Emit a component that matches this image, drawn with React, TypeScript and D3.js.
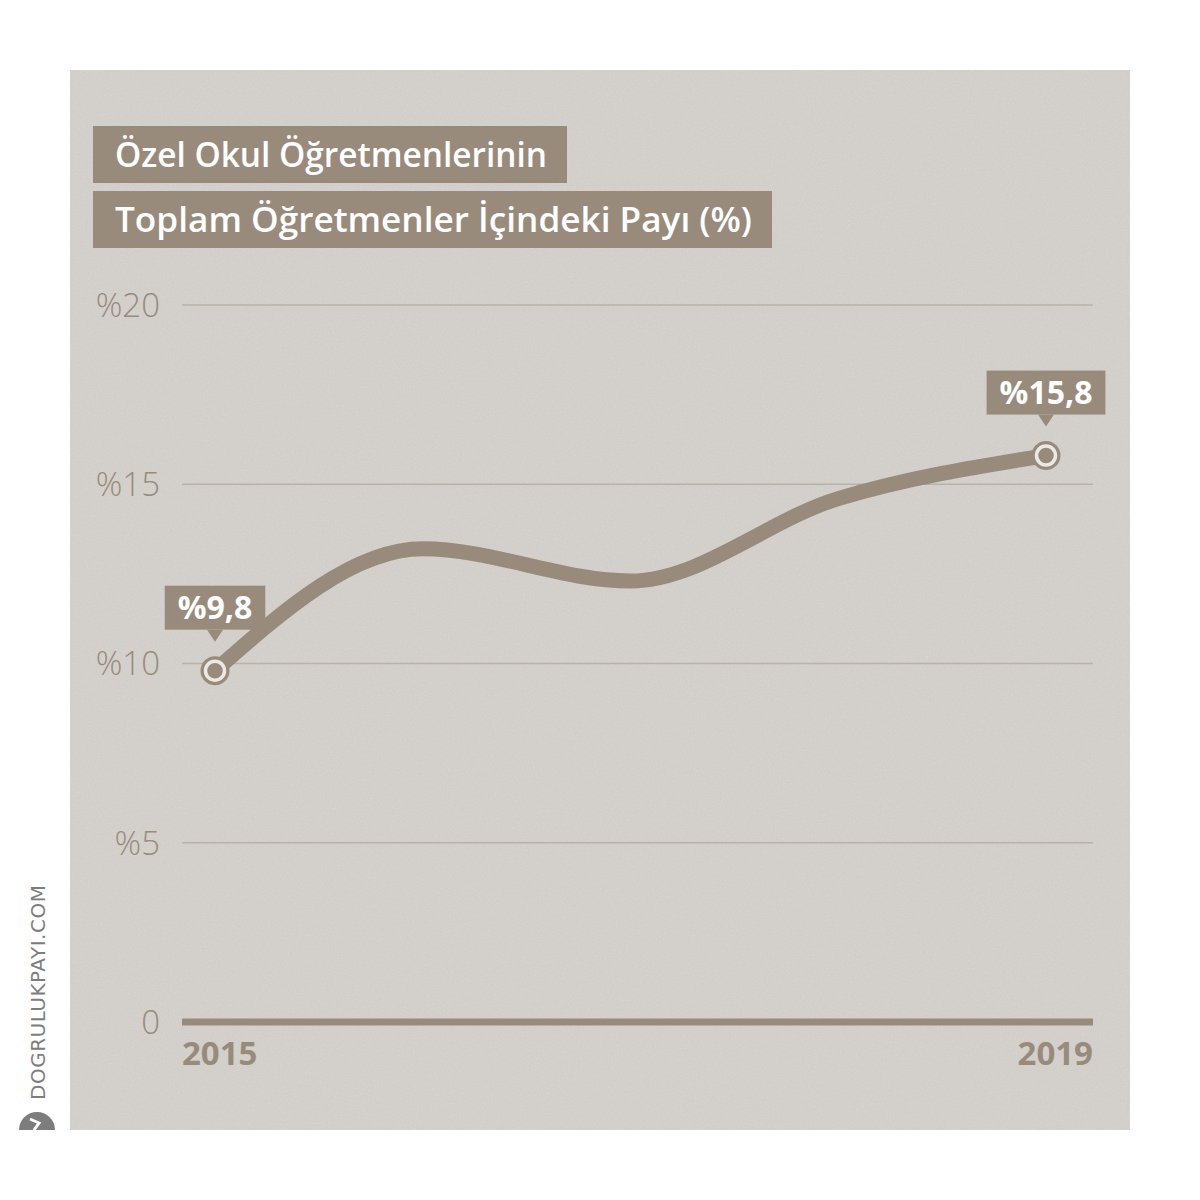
import React, { useEffect, useRef } from 'react';
import * as d3 from 'd3';

const years = [2015, 2016, 2017, 2018, 2019];
const shares = [9.8, 13.2, 12.3, 14.6, 15.8];
const yTicks = [0, 5, 10, 15, 20];
const titleLines = ['Özel Okul Öğretmenlerinin', 'Toplam Öğretmenler İçindeki Payı (%)'];
const titleWidths = [432, 637];
const callouts = [
  { year: 2015, label: '%9,8' },
  { year: 2019, label: '%15,8' },
];

const W = 1200;
const H = 1200;
const brown = '#988b7c';
const panel = '#d2cec9';
const grid = '#b9b2a9';
const font = "'Open Sans', 'Noto Sans', sans-serif";

const App: React.FC = () => {
  const svgRef = useRef<SVGSVGElement>(null);

  useEffect(() => {
    if (!svgRef.current) return;
    const svg = d3.select(svgRef.current);
    svg.selectAll('*').remove();

    // paper-like speckle
    const defs = svg.append('defs');
    const f = defs.append('filter').attr('id', 'speckle')
      .attr('x', 0).attr('y', 0).attr('width', '100%').attr('height', '100%');
    f.append('feTurbulence')
      .attr('type', 'fractalNoise').attr('baseFrequency', 0.6)
      .attr('numOctaves', 2).attr('seed', 3).attr('result', 'n');
    f.append('feColorMatrix').attr('in', 'n').attr('type', 'matrix')
      .attr('values', '0 0 0 0 0.72  0 0 0 0 0.70  0 0 0 0 0.67  0 0 0 -2.2 1.25');
    f.append('feComposite').attr('in2', 'SourceGraphic').attr('operator', 'in');

    // panel background
    svg.append('rect')
      .attr('x', 70).attr('y', 70)
      .attr('width', 1060).attr('height', 1060)
      .attr('fill', panel);
    svg.append('rect')
      .attr('x', 70).attr('y', 70)
      .attr('width', 1060).attr('height', 1060)
      .attr('fill', panel)
      .attr('filter', 'url(#speckle)')
      .attr('opacity', 0.5);

    // title boxes
    titleLines.forEach((t, i) => {
      const y0 = 126 + i * 65;
      svg.append('rect')
        .attr('x', 93).attr('y', y0)
        .attr('width', titleWidths[i] + 42).attr('height', 57)
        .attr('fill', brown);
      svg.append('text')
        .attr('x', 115).attr('y', y0 + 41)
        .attr('fill', '#fff')
        .attr('textLength', titleWidths[i])
        .attr('lengthAdjust', 'spacingAndGlyphs')
        .style('font-family', font)
        .style('font-weight', '600')
        .style('font-size', '34px')
        .text(t);
    });

    const x = d3.scaleLinear().domain([2015, 2019]).range([215, 1046]);
    const y = d3.scaleLinear().domain([0, 20]).range([1022, 305]);
    const gridX0 = 182;
    const gridX1 = 1093;

    // grid lines + y labels
    yTicks.forEach(t => {
      if (t > 0) {
        svg.append('line')
          .attr('x1', gridX0).attr('x2', gridX1)
          .attr('y1', y(t)).attr('y2', y(t))
          .attr('stroke', grid).attr('stroke-width', 1.5);
      }
      svg.append('text')
        .attr('x', 160).attr('y', y(t))
        .attr('dy', '0.36em')
        .attr('text-anchor', 'end')
        .attr('fill', brown)
        .style('font-family', font)
        .style('font-weight', '300')
        .style('font-size', '33px')
        .text(t === 0 ? '0' : `%${t}`);
    });

    // baseline
    svg.append('line')
      .attr('x1', gridX0).attr('x2', gridX1)
      .attr('y1', y(0)).attr('y2', y(0))
      .attr('stroke', brown).attr('stroke-width', 7);

    // x labels (first and last year only)
    const yearStyle = (s: d3.Selection<SVGTextElement, unknown, null, undefined>) =>
      s.attr('fill', brown)
        .style('font-family', font).style('font-weight', '700').style('font-size', '33px');
    svg.append('text')
      .attr('x', gridX0).attr('y', 1065)
      .call(yearStyle)
      .text(String(years[0]));
    svg.append('text')
      .attr('x', gridX1).attr('y', 1065)
      .attr('text-anchor', 'end')
      .call(yearStyle)
      .text(String(years[years.length - 1]));

    // line
    const pts = years.map((yr, i) => ({ yr, v: shares[i] }));
    const line = d3.line<{ yr: number; v: number }>()
      .x(d => x(d.yr))
      .y(d => y(d.v))
      .curve(d3.curveMonotoneX);
    svg.append('path')
      .datum(pts)
      .attr('d', line)
      .attr('fill', 'none')
      .attr('stroke', brown)
      .attr('stroke-width', 15)
      .attr('stroke-linecap', 'round');

    // endpoint markers + callouts
    callouts.forEach(c => {
      const i = years.indexOf(c.year);
      const cx = x(c.year);
      const cy = y(shares[i]);
      svg.append('circle').attr('cx', cx).attr('cy', cy).attr('r', 14.5).attr('fill', brown);
      svg.append('circle').attr('cx', cx).attr('cy', cy).attr('r', 9.5)
        .attr('fill', brown).attr('stroke', '#ece9e5').attr('stroke-width', 3.5);

      const g = svg.append('g');
      const boxBottom = cy - 41;
      const txt = g.append('text')
        .attr('x', cx).attr('y', boxBottom - 11)
        .attr('text-anchor', 'middle')
        .attr('fill', '#fff')
        .style('font-family', font).style('font-weight', '700').style('font-size', '32px')
        .text(c.label);
      const w = (txt.node() as SVGTextElement).getComputedTextLength() + 26;
      g.insert('rect', 'text')
        .attr('x', cx - w / 2).attr('y', boxBottom - 44)
        .attr('width', w).attr('height', 44)
        .attr('fill', brown);
      g.insert('path', 'text')
        .attr('d', `M${cx - 8},${boxBottom} L${cx},${boxBottom + 12} L${cx + 8},${boxBottom} Z`)
        .attr('fill', brown);
    });

    // watermark
    svg.append('text')
      .attr('transform', 'translate(45,1100) rotate(-90)')
      .attr('fill', '#7d7d7d')
      .style('font-family', "'DejaVu Sans', sans-serif")
      .style('font-size', '20px')
      .style('letter-spacing', '0.5px')
      .text('DOGRULUKPAYI.COM');
    svg.append('path')
      .attr('d', 'M19,1130 A18,18 0 0 1 55,1130 Z')
      .attr('fill', '#7d7d7d');
    svg.append('path')
      .attr('d', 'M30,1119 L39,1123 L34,1130')
      .attr('fill', 'none').attr('stroke', '#fff').attr('stroke-width', 3);
  }, []);

  return (
    <svg
      ref={svgRef}
      width={W}
      height={H}
      style={{ position: 'absolute', left: 0, top: 0, background: '#fff' }}
    />
  );
};

export default App;
